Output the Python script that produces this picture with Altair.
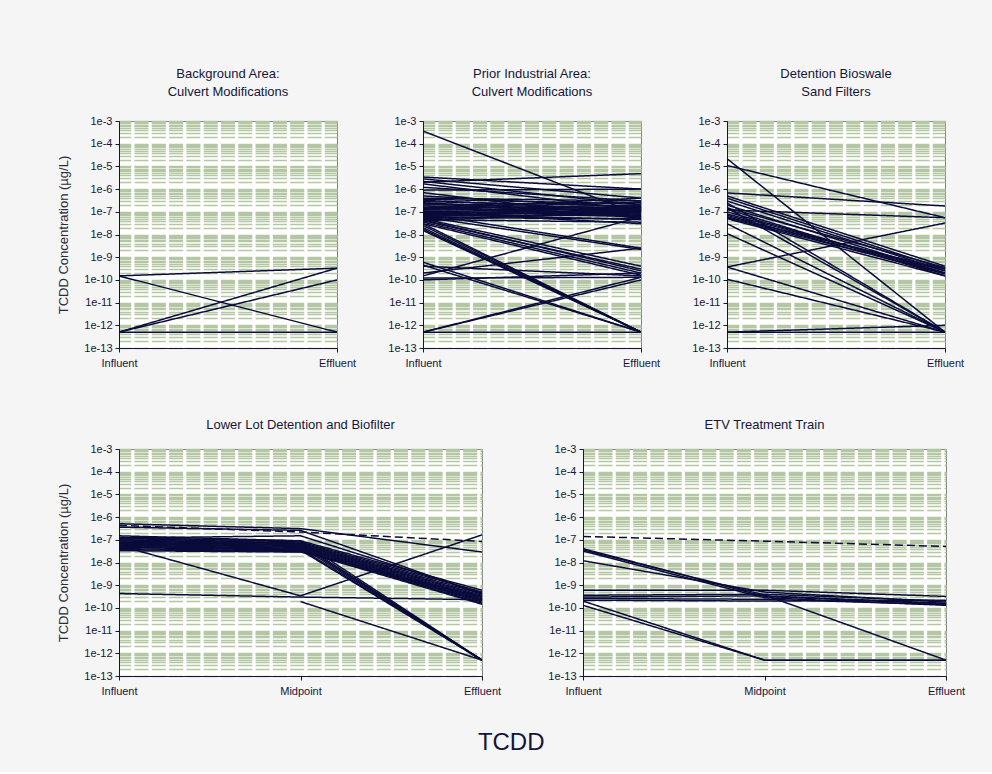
import altair as alt
import pandas as pd

# ---- stage labels -------------------------------------------------------
STAGES_2 = ["Influent", "Effluent"]
STAGES_3 = ["Influent", "Midpoint", "Effluent"]

# ---- Background Area: Culvert Modifications (ug/L) ------------------------
bg_influent = [1.5e-10, 1.5e-10, 5e-13, 5e-13, 5e-13]
bg_effluent = [3.3e-10, 5e-13, 3.3e-10, 1e-10, 5e-13]

# ---- Prior Industrial Area: Culvert Modifications --------------------------
pi_influent = [
    3.6e-4, 2.0e-6, 3.4e-6, 2.8e-6, 2.2e-6, 1.7e-6, 1.2e-6, 9e-7, 7e-7, 5e-7, 4e-7,
    3.6e-7, 3.2e-7, 2.8e-7, 2.5e-7, 2.2e-7, 2.0e-7, 1.8e-7, 1.6e-7, 1.5e-7, 1.4e-7,
    1.3e-7, 1.2e-7, 1.1e-7, 1.0e-7, 9.5e-8, 9e-8, 8.5e-8, 8e-8, 7.5e-8, 7e-8,
    6.5e-8, 6e-8, 5.5e-8, 5e-8, 4.5e-8, 4e-8, 1.3e-7, 1.0e-7, 2.4e-7,
    8e-8, 6e-8, 5e-8, 4e-8, 3.5e-8, 3e-8, 4.5e-8,
    3e-8, 2.5e-8, 2e-8, 1.7e-8, 1.5e-8,
    6e-10, 4.5e-10, 4e-10, 2e-10, 1.5e-10, 1.2e-10, 1e-10,
    5e-13, 5e-13, 5e-13,
]
pi_effluent = [
    7e-8, 4.8e-6, 1e-6, 4e-7, 2e-7, 1.2e-7, 3e-7, 1e-6, 5e-8, 1.5e-7, 3e-7,
    2.2e-7, 1.2e-7, 1.8e-7, 9e-8, 1.4e-7, 2.6e-7, 1.1e-7, 7e-8, 1.6e-7, 9e-8,
    2e-7, 1.3e-7, 6e-8, 1.5e-7, 1e-7, 8e-8, 1.2e-7, 4.5e-8, 1.7e-7, 1e-7,
    7e-8, 1.3e-7, 5e-8, 9e-8, 3.5e-8, 1.1e-7, 4e-7, 3e-8, 6e-8,
    2.5e-9, 2.2e-9, 4e-10, 3e-10, 2e-10, 1.6e-10, 2.5e-10,
    5e-13, 5e-13, 5e-13, 5e-13, 5e-13,
    5e-13, 5e-13, 1.5e-10, 2.5e-9, 6e-8, 1.3e-10, 2e-10,
    1.3e-10, 1e-10, 5e-13,
]

# ---- Detention Bioswale Sand Filters --------------------------------------
bs_influent = [
    2.2e-5, 1.1e-5, 6.8e-7, 1.2e-7, 5e-7, 4e-7, 3e-7, 2e-7, 1.5e-7, 1.3e-7,
    1e-7, 8e-8, 7e-8, 6e-8, 5.5e-8, 5e-8, 2.5e-7, 1.5e-7, 3e-8, 1.1e-8,
    3.7e-10, 3.7e-10, 1.07e-10, 5e-13, 5e-13,
]
bs_effluent = [
    5e-13, 5.5e-8, 1.8e-7, 5.5e-8, 4e-10, 3e-10, 2.5e-10, 2e-10, 3.5e-10, 1.5e-10,
    2e-10, 2.5e-10, 1.8e-10, 3e-10, 2e-10, 1.5e-10, 5e-13, 5e-13, 5e-13, 5e-13,
    3.2e-8, 5e-13, 5e-13, 1e-12, 5e-13,
]

# ---- Lower Lot Detention and Biofilter (None = not sampled) --------------
ll_influent = [
    5.1e-7, 4.3e-7, 3.6e-7,
    1.5e-7, 1.3e-7, 1.15e-7, 1.0e-7, 9e-8, 8e-8, 7.2e-8, 6.5e-8, 5.8e-8, 5.2e-8,
    4.6e-8, 4.1e-8, 3.7e-8, 3.3e-8, 1.2e-7,
    1.2e-7, 1e-7, 8e-8, 7e-8, 6e-8, 5e-8,
    5.6e-8, 4.3e-10, None,
]
ll_midpoint = [
    3.1e-7, 2.2e-7, 2.6e-7,
    9e-8, 8e-8, 7.2e-8, 6.6e-8, 6e-8, 5.5e-8, 5e-8, 4.6e-8, 4.2e-8, 3.8e-8,
    3.5e-8, 3.2e-8, 3e-8, 2.9e-8, 1.5e-7,
    9e-8, 7e-8, 6e-8, 5e-8, 4e-8, 3.5e-8,
    3.4e-10, 3e-10, 1.9e-10,
]
ll_effluent = [
    2.9e-8, 8.5e-8, 4e-10,
    6e-10, 5e-10, 4.2e-10, 3.6e-10, 3.2e-10, 2.8e-10, 2.5e-10, 2.2e-10, 2e-10, 1.8e-10,
    1.6e-10, 1.45e-10, 2.3e-10, 3e-10, 4.5e-10,
    5e-13, 5e-13, 5e-13, 5e-13, 5e-13, 5e-13,
    1.65e-7, 2.3e-10, 5e-13,
]
ll_dashed = [False, True] + [False] * 25

# ---- ETV Treatment Train ---------------------------------------------------
etv_influent = [1.4e-7, 4.1e-8, 3.6e-8, 3.2e-8, 1.2e-8, 6e-10, 3.6e-10, 3e-10,
                2.6e-10, 2.2e-10, 2e-10, 1.3e-10]
etv_midpoint = [8.7e-8, 3.2e-10, 3.7e-10, 2.8e-10, 5e-10, 6e-10, 4e-10, 3.4e-10,
                2.4e-10, 2e-10, 5e-13, 5e-13]
etv_effluent = [5.1e-8, 1.5e-10, 5e-13, 1.3e-10, 1.8e-10, 3.2e-10, 2e-10, 1.6e-10,
                1.4e-10, 2.2e-10, 5e-13, 5e-13]
etv_dashed = [True] + [False] * 11

INK = "#15153a"
LINE = "#0b0b3b"
GRID = "#b5c6a3"
FONT = "Liberation Sans"

# log grid: every 1..9 x 10^n, labels only on the decades
GRID_VALUES = [m * 10.0 ** e for e in range(-13, -3) for m in range(1, 10)] + [1e-3]
DECADE = "abs(log(datum.value)/LN10 - round(log(datum.value)/LN10)) < 0.001"


def to_frame(columns, stages, dashed=None):
    rows = []
    n = len(columns[0])
    for i in range(n):
        style = "dashed" if (dashed and dashed[i]) else "solid"
        for k, (stage, col) in enumerate(zip(stages, columns)):
            if col[i] is None:
                continue
            rows.append({"series": i, "stage": stage, "k": k, "value": col[i], "style": style})
    return pd.DataFrame(rows)


def panel(df, stages, title, width, y_title, title_offset):
    y_axis = alt.Axis(
        values=GRID_VALUES,
        labelExpr=f"({DECADE}) ? '1e' + round(log(datum.value)/LN10) : ''",
        labelOverlap=False,
        labelFontSize=11,
        labelColor=INK,
        labelFont=FONT,
        labelPadding=3,
        tickSize=4,
        tickColor=INK,
        tickOpacity={"condition": {"test": DECADE, "value": 1}, "value": 0},
        grid=True,
        gridColor=GRID,
        gridWidth=1.5,
        gridDash=[14, 3.3],
        gridDashOffset=2.3,
        domainColor=INK,
        title=y_title if y_title else None,
        titleFontSize=13,
        titleFont=FONT,
        titleFontWeight="normal",
        titleColor="#2a2a3a",
        titlePadding=13,
    )
    x_axis = alt.Axis(
        labelAngle=0,
        labelFontSize=11,
        labelColor=INK,
        labelFont=FONT,
        labelPadding=5,
        tickSize=4,
        tickColor=INK,
        domainColor=INK,
        grid=False,
        title=None,
    )
    return (
        alt.Chart(df)
        .mark_line(color=LINE, strokeWidth=1.5, clip=True)
        .encode(
            x=alt.X("stage:N", sort=stages, scale=alt.Scale(type="point", padding=0), axis=x_axis),
            y=alt.Y("value:Q", scale=alt.Scale(type="log", domain=[1e-13, 1e-3], nice=False), axis=y_axis),
            detail="series:N",
            order="k:Q",
            strokeDash=alt.StrokeDash(
                "style:N",
                scale=alt.Scale(domain=["solid", "dashed"], range=[[1, 0], [8, 4]]),
                legend=None,
            ),
        )
        .properties(
            width=width,
            height=227,
            title=alt.TitleParams(
                title, fontSize=13, lineHeight=18, font=FONT, fontWeight="normal",
                color=INK, offset=title_offset, anchor="middle",
            ),
        )
    )


Y_TITLE = "TCDD Concentration (µg/L)"

p1 = panel(to_frame([bg_influent, bg_effluent], STAGES_2), STAGES_2,
           ["Background Area:", "Culvert Modifications"], 218, Y_TITLE, 16)
p2 = panel(to_frame([pi_influent, pi_effluent], STAGES_2), STAGES_2,
           ["Prior Industrial Area:", "Culvert Modifications"], 218, None, 16)
p3 = panel(to_frame([bs_influent, bs_effluent], STAGES_2), STAGES_2,
           ["Detention Bioswale", "Sand Filters"], 218, None, 16)
p4 = panel(to_frame([ll_influent, ll_midpoint, ll_effluent], STAGES_3, ll_dashed), STAGES_3,
           "Lower Lot Detention and Biofilter", 363, Y_TITLE, 11)
p5 = panel(to_frame([etv_influent, etv_midpoint, etv_effluent], STAGES_3, etv_dashed), STAGES_3,
           "ETV Treatment Train", 363, None, 11)

top = alt.hconcat(p1, p2, p3, spacing=86, bounds="flush")
bottom = alt.hconcat(p4, p5, spacing=101, bounds="flush")

chart = (
    alt.vconcat(top, bottom, spacing=49)
    .properties(
        title=alt.TitleParams("TCDD", orient="bottom", anchor="middle", fontSize=24,
                              font=FONT, fontWeight="normal", color=INK, offset=34),
        background="#f5f5f5",
        padding={"left": 57, "top": 67, "right": 26, "bottom": 17},
    )
    .configure_view(stroke="#808080", strokeWidth=1, fill="white")
)

chart.save("out.html", embed_options={"renderer": "svg", "actions": False})
